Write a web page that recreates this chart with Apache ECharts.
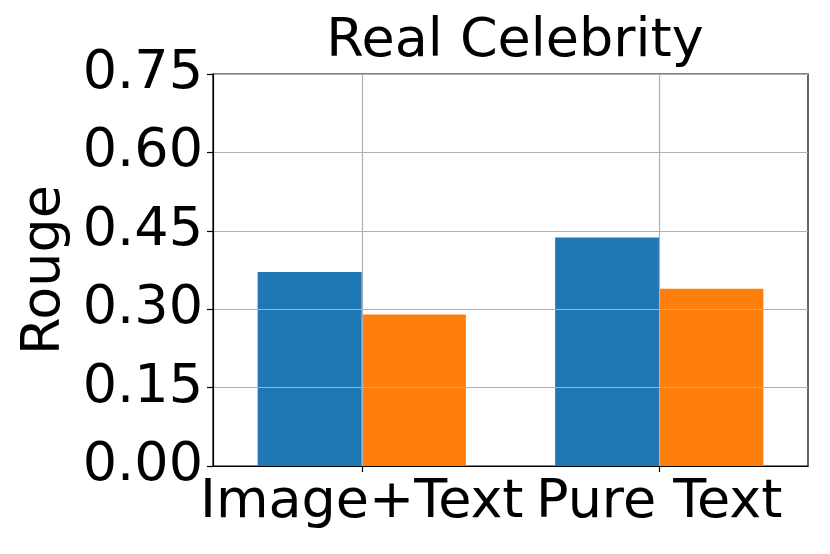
<!DOCTYPE html>
<html><head><meta charset="utf-8">
<script src="https://cdn.jsdelivr.net/npm/echarts@6/dist/echarts.min.js"></script>
<style>html,body{margin:0;padding:0;background:#fff}#c{width:830px;height:554px}</style>
</head><body><div id="c"></div>
<script>
const categories = ['Image+Text', 'Pure Text'];
const seriesA = [0.371, 0.437];
const seriesB = [0.290, 0.339];
const yTicks = [0, 0.15, 0.30, 0.45, 0.60, 0.75];
const titleText = 'Real Celebrity';
const yName = 'Rouge';

const FONT = 'DejaVu Sans';
const FS = 54;
const chart = echarts.init(document.getElementById('c'), null, {renderer: 'canvas'});
chart.setOption({
  animation: false,
  backgroundColor: '#fff',
  title: {
    text: titleText, left: 510, top: 10, textAlign: 'center',
    textStyle: {fontFamily: FONT, fontSize: FS, fontWeight: 'normal', color: '#000'}
  },
  grid: {left: 213, right: 22, top: 74, bottom: 88, containLabel: false, outerBoundsMode: 'none',
    show: true, borderColor: '#000', borderWidth: 1.2, backgroundColor: 'transparent'},
  xAxis: {
    type: 'category', data: categories, z: 5,
    axisLine: {lineStyle: {color: '#000', width: 1.2}},
    axisTick: {show: true, alignWithLabel: true, length: 6, lineStyle: {color: '#000', width: 1.2}},
    axisLabel: {fontFamily: FONT, fontSize: FS, color: '#000', margin: 10, interval: 0, hideOverlap: false},
    splitLine: {show: false}
  },
  yAxis: {
    type: 'value', min: 0, max: 0.75, interval: 0.15, z: 5,
    name: yName, nameLocation: 'middle', nameGap: 138,
    nameTextStyle: {fontFamily: FONT, fontSize: FS, color: '#000'},
    axisLine: {show: true, lineStyle: {color: '#000', width: 1.2}},
    axisTick: {show: true, length: 6, lineStyle: {color: '#000', width: 1.2}},
    axisLabel: {fontFamily: FONT, fontSize: FS, color: '#000', margin: 10,
      formatter: v => yTicks.includes(+v.toFixed(2)) ? v.toFixed(2) : ''},
    splitLine: {show: true, lineStyle: {color: '#b0b0b0', width: 1.2}}
  },
  series: [
    {type: 'bar', data: seriesA, barWidth: '35%', barGap: '0%', z: 1, itemStyle: {color: '#1f77b4'}},
    {type: 'bar', data: seriesB, barWidth: '35%', barGap: '0%', z: 1, itemStyle: {color: '#ff7f0e'}},
    {type: 'line', data: [], showSymbol: false, z: 6, silent: true,
     markLine: {silent: true, symbol: 'none', label: {show: false}, z: 6, animation: false,
       lineStyle: {color: '#b0b0b0', type: 'solid', width: 1.2},
       data: categories.map(c => ({xAxis: c}))}}
  ]
});
</script></body></html>
